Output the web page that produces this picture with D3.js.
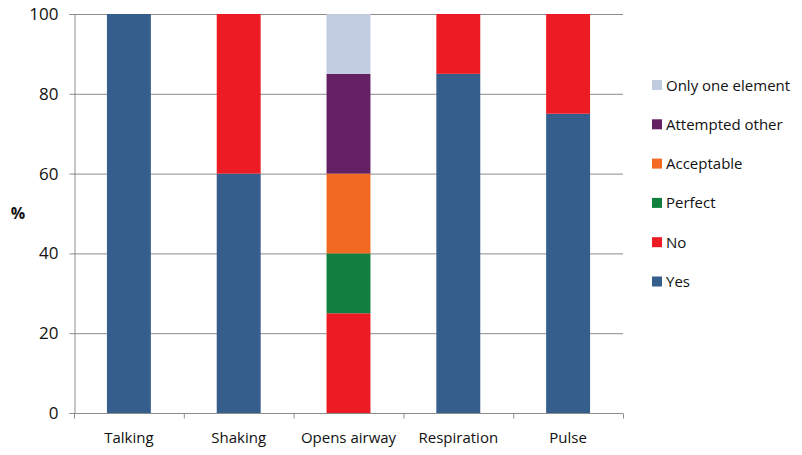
<!DOCTYPE html>
<html><head><meta charset="utf-8">
<script src="https://cdn.jsdelivr.net/npm/d3@7"></script>
<style>body{margin:0;background:#fff}svg{display:block}text{font-family:"Open Sans",Lato,sans-serif;fill:#111}</style>
</head><body>
<script>
const categories = ["Talking","Shaking","Opens airway","Respiration","Pulse"];
const seriesNames = ["Yes","No","Perfect","Acceptable","Attempted other","Only one element"];
const yes = [100,60,0,85,75];
const no = [0,40,25,15,25];
const perfect = [0,0,15,0,0];
const acceptable = [0,0,20,0,0];
const attempted = [0,0,25,0,0];
const onlyOne = [0,0,15,0,0];
const yTicks = [0,20,40,60,80,100];
const colors = ["#365E8D","#ED1C24","#11803F","#F26A21","#632063","#C1CCE0"];

const seriesVals = [yes,no,perfect,acceptable,attempted,onlyOne];
const rows = categories.map((c,i)=>{const r={cat:c};seriesNames.forEach((s,j)=>r[s]=seriesVals[j][i]);return r;});
const stacked = d3.stack().keys(seriesNames)(rows);

const W=802,H=455,L=74,R=623,T=14,B=413;
const svg=d3.select("body").append("svg").attr("width",W).attr("height",H);
const x=d3.scaleBand().domain(categories).range([L,R]).paddingInner(0.6).paddingOuter(0.3);
const y=d3.scaleLinear().domain([0,100]).range([B,T]);

// grid
svg.append("g").selectAll("line").data(yTicks.filter(t=>t>0)).join("line")
 .attr("x1",L).attr("x2",R).attr("y1",d=>y(d)+0.5).attr("y2",d=>y(d)+0.5)
 .attr("stroke","#8c8c8c").attr("stroke-width",1);

// bars
svg.append("g").selectAll("g").data(stacked).join("g").attr("fill",(d,i)=>colors[i])
 .selectAll("rect").data(d=>d.map(v=>({v,cat:v.data.cat}))).join("rect")
 .attr("x",d=>x(d.cat)).attr("width",x.bandwidth())
 .attr("y",d=>y(d.v[1])).attr("height",d=>y(d.v[0])-y(d.v[1]));

// y axis
const ya=svg.append("g").attr("transform",`translate(${L+0.5},0)`)
 .call(d3.axisLeft(y).tickValues(yTicks).tickSize(5).tickPadding(11));
ya.select(".domain").attr("stroke","#8c8c8c");
ya.selectAll(".tick line").attr("stroke","#8c8c8c");
ya.selectAll("text").style("font-size","17px").attr("fill","#111");

// x axis
const xa=svg.append("g").attr("transform",`translate(0,${B+0.5})`);
xa.append("line").attr("x1",L).attr("x2",R).attr("stroke","#8c8c8c");
const bounds=d3.range(categories.length+1).map(i=>L+i*(R-L)/categories.length);
xa.selectAll("line.t").data(bounds).join("line").attr("class","t")
 .attr("x1",d=>d+0.5).attr("x2",d=>d+0.5).attr("y1",0).attr("y2",5).attr("stroke","#8c8c8c");
xa.selectAll("text").data(categories).join("text")
 .attr("x",d=>x(d)+x.bandwidth()/2).attr("y",29).attr("text-anchor","middle")
 .style("font-size","15px").text(d=>d);

// % label
svg.append("text").attr("x",18).attr("y",219).attr("text-anchor","middle")
 .style("font-size","16px").style("font-weight","bold").text("%");

// legend
const leg=svg.append("g");
const legItems=seriesNames.slice().reverse();
legItems.forEach((s,i)=>{
  const cy=85+i*39.3;
  leg.append("rect").attr("x",652).attr("y",cy-5).attr("width",10).attr("height",10)
   .attr("fill",colors[seriesNames.indexOf(s)]);
  leg.append("text").attr("x",666).attr("y",cy+5.5).style("font-size","15px").text(s);
});
</script>
</body></html>
